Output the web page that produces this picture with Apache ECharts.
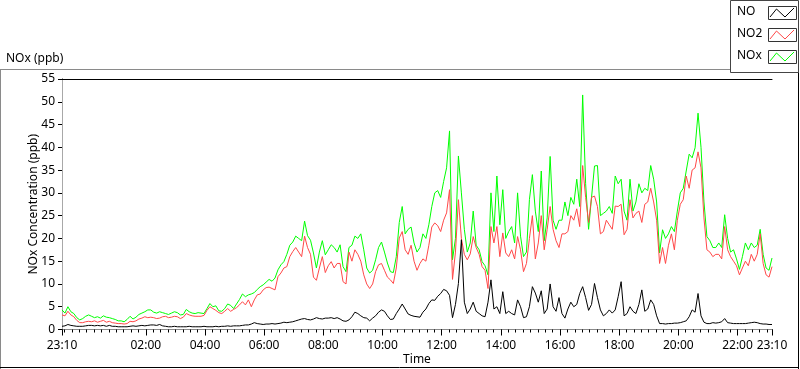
<!DOCTYPE html>
<html><head><meta charset="utf-8">
<script src="https://cdn.jsdelivr.net/npm/echarts@6/dist/echarts.min.js"></script>
<style>html,body{margin:0;padding:0;background:#fff}#c{width:800px;height:369px}</style>
</head><body><div id="c"></div>
<script>
const seriesNames = ['NO', 'NO2', 'NOx'];
const stepMinutes = 6;
const tickLabels = ['23:10','02:00','04:00','06:00','08:00','10:00','12:00','14:00','16:00','18:00','20:00','22:00','23:10'];
const yTickValues = [0,5,10,15,20,25,30,35,40,45,50,55];

const noxValues = [
4.3,3.6,5.0,3.9,3.5,2.6,2.1,2.4,2.9,3.2,
2.9,2.6,2.8,2.5,3.0,2.7,2.6,2.4,2.2,1.9,
1.9,1.7,2.2,2.9,2.3,2.7,3.3,3.6,3.9,4.3,
4.3,3.8,3.6,3.9,3.7,3.5,3.3,3.6,3.9,3.7,
3.2,3.3,4.4,3.9,3.6,3.5,3.7,3.6,3.5,4.6,
5.7,5.0,5.2,4.1,4.0,4.6,5.6,5.3,4.6,5.6,
6.6,7.8,7.2,7.6,7.8,8.1,8.8,9.4,9.8,10.4,
11.0,10.6,11.3,13.1,14.2,14.9,16.5,18.5,19.2,20.5,
20.0,19.5,23.8,20.6,19.6,16.8,13.5,17.0,19.5,16.4,
17.5,18.6,18.0,17.0,18.6,13.8,12.7,18.0,18.5,20.5,
20.0,21.0,17.5,13.5,12.4,13.0,15.3,18.0,19.2,17.0,
14.6,12.7,12.5,16.0,23.5,27.0,21.0,22.0,22.5,19.0,
17.0,18.0,21.0,20.0,23.0,27.0,30.0,30.5,29.0,32.5,
35.5,43.6,15.3,20.0,38.1,30.0,22.0,17.0,19.0,26.0,
18.5,17.5,14.9,14.0,12.0,30.0,21.5,33.7,23.0,30.7,
20.0,21.5,22.6,19.0,30.0,20.5,16.0,17.0,28.5,34.0,
26.0,21.5,34.8,19.5,24.5,38.0,24.0,22.0,24.0,24.0,
28.0,25.0,29.0,27.5,33.0,27.0,51.5,32.0,22.0,29.0,
35.9,36.0,25.0,25.5,26.0,27.0,25.5,33.7,32.0,33.0,
26.0,24.0,33.0,26.0,28.0,32.0,30.0,31.0,30.5,36.0,
33.0,28.0,16.8,21.9,20.0,21.0,22.6,21.5,26.0,30.0,
31.0,34.8,38.5,37.7,39.9,47.5,40.0,28.0,20.4,19.5,
18.0,18.0,19.0,18.0,25.2,20.0,17.0,17.5,15.5,13.2,
16.0,19.0,17.5,19.0,18.0,18.5,22.0,16.5,13.5,13.0,15.7
];
const no2Values = [
3.2,3.0,4.0,3.2,2.8,2.0,1.5,1.5,1.7,1.8,
1.7,1.9,1.6,1.8,2.0,1.6,1.8,1.5,1.4,1.3,
1.3,1.2,1.3,1.8,1.7,1.9,2.3,2.5,2.8,2.6,
2.7,2.6,2.4,2.5,2.8,2.9,2.6,2.7,2.9,2.8,
2.4,2.7,3.5,3.2,3.0,2.9,2.9,2.9,3.1,4.2,
5.0,4.6,4.2,3.7,3.5,4.0,4.6,4.0,4.4,4.8,
5.4,6.1,5.4,6.5,5.0,6.5,7.6,7.8,8.7,9.2,
9.3,9.0,8.7,11.6,12.4,13.5,13.8,16.0,17.1,18.0,
17.0,16.0,20.5,18.0,16.5,11.5,10.8,13.5,16.0,12.5,
14.0,14.9,13.5,14.5,14.5,10.5,10.0,17.0,15.0,17.5,
16.5,15.0,12.0,10.0,9.0,10.0,12.7,14.2,14.5,13.0,
11.5,10.9,10.1,13.5,20.1,21.5,17.5,16.5,18.5,15.0,
13.0,14.5,15.5,15.0,18.5,22.5,23.4,22.8,21.5,24.0,
25.6,30.7,11.0,17.0,28.5,20.0,16.5,15.3,16.6,20.4,
18.0,16.5,13.8,13.0,9.0,22.6,19.0,22.6,16.0,21.2,
16.8,16.0,17.5,15.5,20.4,17.5,12.7,14.5,20.0,25.0,
15.5,19.0,25.0,17.5,22.0,27.0,22.0,19.5,18.0,21.0,
21.0,21.5,25.0,24.0,26.5,22.6,36.0,29.0,23.5,29.0,
29.3,27.0,21.0,21.5,24.0,23.0,22.0,27.1,27.0,27.5,
20.8,22.0,28.5,24.5,25.5,26.0,23.5,27.5,28.0,31.0,
28.0,24.0,14.5,18.0,14.5,18.5,21.0,17.5,24.0,27.5,
28.5,33.7,31.0,35.0,35.5,39.0,35.5,24.5,17.5,17.0,
16.0,16.5,16.5,15.5,22.6,17.5,16.0,15.0,14.0,12.0,
13.5,15.0,14.0,16.5,15.0,16.5,21.0,14.5,12.0,11.5,13.8
];
const noValues = [
0.7,0.8,1.1,0.9,0.8,0.7,0.7,0.7,0.8,0.9,
0.9,0.8,0.9,0.8,0.9,0.7,0.9,0.7,0.7,0.6,
0.6,0.6,0.6,0.7,0.8,0.7,0.8,0.9,0.8,0.9,
1.0,1.0,0.9,1.1,0.8,0.7,0.6,0.6,0.7,0.6,
0.6,0.6,0.6,0.7,0.6,0.6,0.6,0.6,0.7,0.6,
0.6,0.6,0.7,0.6,0.7,0.7,0.8,0.7,0.8,0.8,
0.8,0.9,1.0,1.0,1.2,1.5,1.3,1.2,1.1,1.2,
1.2,1.3,1.2,1.3,1.4,1.6,1.5,1.6,1.7,1.9,
2.1,2.3,2.4,2.2,2.1,2.3,2.6,2.4,2.3,2.5,
2.5,2.6,2.4,2.6,2.3,1.9,1.8,2.1,2.8,3.8,
3.5,3.0,2.6,2.5,1.9,2.5,3.0,3.8,4.3,4.0,
3.0,2.2,2.3,3.5,4.5,5.6,4.5,3.4,3.1,2.9,
2.8,2.7,3.8,4.5,5.7,6.5,6.4,7.3,7.9,8.8,
8.5,7.5,2.6,5.5,10.1,19.7,6.0,3.5,4.5,6.0,
4.0,3.5,3.0,2.8,6.0,10.9,4.5,5.0,3.5,8.3,
3.5,4.0,3.5,3.2,6.5,5.0,2.6,2.8,5.0,9.4,
8.0,6.0,8.5,3.5,4.5,10.0,5.0,4.0,7.0,3.5,
2.5,4.5,6.0,5.0,5.5,7.9,9.4,7.0,4.2,5.5,
10.1,7.0,4.3,3.0,3.5,4.3,3.6,4.3,7.2,10.5,
3.0,3.5,5.0,4.0,3.5,5.5,8.7,4.0,4.5,6.5,
5.5,3.0,1.3,1.3,1.2,1.3,1.3,1.4,1.4,1.5,
1.7,1.9,2.8,4.3,3.8,7.9,3.0,1.6,1.3,1.3,
1.5,1.4,1.5,1.7,2.4,1.5,1.4,1.3,1.3,1.3,
1.3,1.3,1.4,1.5,1.6,1.5,1.3,1.2,1.2,1.1,1.1
];

const colors = { NO: '#000000', NO2: '#ff4848', NOx: '#00ff00' };
const FONT = 'Noto Sans';

const startClock = 23 * 60 + 10;
function labelToOffset(lab, i) {
  const p = lab.split(':');
  let off = ((+p[0]) * 60 + (+p[1]) - startClock + 1440) % 1440;
  if (i === tickLabels.length - 1 && off === 0) off = 1440;
  return off;
}
const majorTicks = tickLabels.map(labelToOffset);
const span = 1440;
const minorTicks = [0];
for (let t = 5; t < span; t += 15) minorTicks.push(t);
minorTicks.push(span);

function fmt(t) {
  const m = (startClock + t) % 1440;
  const h = Math.floor(m / 60), mm = m % 60;
  return (h < 10 ? '0' : '') + h + ':' + (mm < 10 ? '0' : '') + mm;
}
function toPairs(arr) { return arr.map((v, i) => [i * stepMinutes, v]); }

const valuesByName = { NO: noValues, NO2: no2Values, NOx: noxValues };
const drawOrder = ['NOx', 'NO2', 'NO'];

const chart = echarts.init(document.getElementById('c'), null, { renderer: 'canvas' });

const legendGraphics = [];
seriesNames.forEach((name, i) => {
  const top = [6, 28, 50][i];
  legendGraphics.push({ type: 'text', left: 737, top: top + 0, style: { text: name, fill: '#000', font: '12px "' + FONT + '"' } });
  legendGraphics.push({ type: 'rect', shape: { x: 768.5, y: top + 0.5, width: 28, height: 13 }, style: { fill: '#fff', stroke: '#333', lineWidth: 1 } });
  legendGraphics.push({ type: 'polyline', shape: { points: [[770, top + 11], [776.5, top + 3], [785, top + 11], [794, top + 2]] }, style: { stroke: colors[name], lineWidth: 1, fill: null } });
});

const option = {
  animation: false,
  backgroundColor: '#ffffff',
  textStyle: { fontFamily: FONT },
  grid: { left: 62, right: 28, top: 79, bottom: 39.5, containLabel: false, outerBoundsMode: 'none' },
  xAxis: [
    { type: 'value', min: 0, max: span, position: 'bottom',
      axisLine: { show: true, lineStyle: { color: '#8a8a8a', width: 1 } },
      axisTick: { show: true, customValues: minorTicks, length: 3, lineStyle: { color: '#000' } },
      axisLabel: { show: false }, splitLine: { show: false } },
    { type: 'value', min: 0, max: span, position: 'bottom',
      axisLine: { show: false },
      axisTick: { show: true, customValues: majorTicks, length: 6, lineStyle: { color: '#000' } },
      axisLabel: { show: true, customValues: majorTicks, formatter: fmt, color: '#000', fontSize: 12, fontFamily: FONT, margin: 10, hideOverlap: false },
      splitLine: { show: false },
      name: 'Time', nameLocation: 'middle', nameGap: 24, nameMoveOverlap: false,
      nameTextStyle: { color: '#000', fontSize: 12, fontFamily: FONT } },
    { type: 'value', min: 0, max: span, position: 'top',
      axisLine: { show: true, lineStyle: { color: '#000', width: 1 } },
      axisTick: { show: false }, axisLabel: { show: false }, splitLine: { show: false } }
  ],
  yAxis: [
    { type: 'value', min: 0, max: 55, interval: 5, position: 'left',
      axisLine: { show: true, lineStyle: { color: '#000', width: 1 } },
      axisTick: { show: true, length: 4, lineStyle: { color: '#000' }, customValues: yTickValues },
      axisLabel: { color: '#000', fontSize: 12, fontFamily: FONT, margin: 7, customValues: yTickValues },
      splitLine: { show: false },
      name: 'NOx Concentration (ppb)', nameLocation: 'middle', nameGap: 22, nameRotate: 90, nameMoveOverlap: false,
      nameTextStyle: { color: '#000', fontSize: 12, fontFamily: FONT } },
    { type: 'value', min: 0, max: 55, position: 'right',
      axisLine: { show: true, lineStyle: { color: '#a8a8a8', width: 1 } },
      axisTick: { show: false }, axisLabel: { show: false }, splitLine: { show: false } }
  ],
  series: drawOrder.map(name => ({
    name: name, type: 'line', xAxisIndex: 0, yAxisIndex: 0,
    data: toPairs(valuesByName[name]),
    showSymbol: false, symbol: 'none', sampling: null,
    lineStyle: { color: colors[name], width: 1 },
    itemStyle: { color: colors[name] },
    emphasis: { disabled: true }
  })),
  graphic: [
    { type: 'line', shape: { x1: 0, y1: 69.5, x2: 730, y2: 69.5 }, style: { stroke: '#8a8a8a', lineWidth: 1 } },
    { type: 'line', shape: { x1: 0.5, y1: 69.5, x2: 0.5, y2: 369 }, style: { stroke: '#8a8a8a', lineWidth: 1 } },
    { type: 'line', shape: { x1: 798.5, y1: 72, x2: 798.5, y2: 369 }, style: { stroke: '#000', lineWidth: 1 } },
    { type: 'line', shape: { x1: 0, y1: 367.5, x2: 799, y2: 367.5 }, style: { stroke: '#000', lineWidth: 1 } },
    { type: 'rect', shape: { x: 730.5, y: 0.5, width: 68, height: 72 }, style: { fill: '#fff', stroke: '#444', lineWidth: 1 } },
    { type: 'text', left: 6, top: 53, style: { text: 'NOx (ppb)', fill: '#000', font: '12px "' + FONT + '"' } }
  ].concat(legendGraphics)
};
chart.setOption(option);
</script>
</body></html>
